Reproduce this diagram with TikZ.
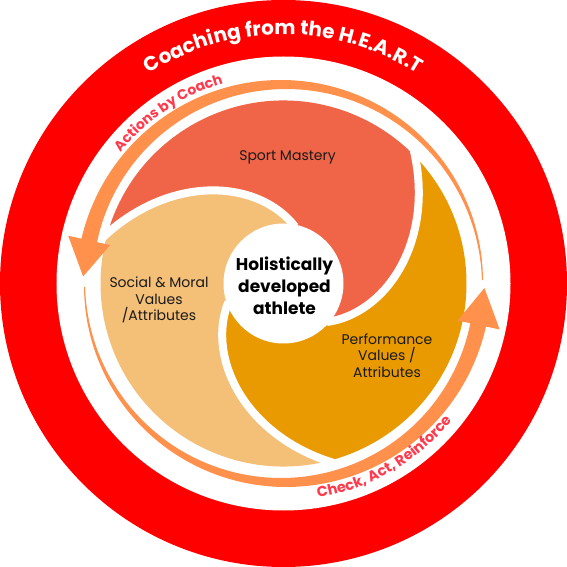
\documentclass[tikz,border=0pt]{standalone}
\usepackage{fontspec}
\setmainfont{Poppins}
\usetikzlibrary{decorations.text}
\definecolor{ringred}{HTML}{FF0000}
\definecolor{sportc}{HTML}{F06547}
\definecolor{perfc}{HTML}{E89A00}
\definecolor{socc}{HTML}{F4BF76}
\definecolor{arrowc}{HTML}{FF914D}
\definecolor{labred}{HTML}{FF3A4C}
\definecolor{ink}{HTML}{1A1A1A}
\tikzset{
  declare function={sr(\t)=58+125*\t*(0.6+0.4*\t);},
  bladetext/.style={font=\fontsize{14}{16.3}\selectfont, text=ink, align=center, inner sep=0pt},
  coretext/.style={font=\fontsize{17}{22}\selectfont\bfseries, text=black, align=center, inner sep=0pt},
  gapline/.style={white, line width=8pt},
}
\begin{document}
\begin{tikzpicture}[x=1pt,y=1pt]
\useasboundingbox (-283.5,-283.5) rectangle (283.5,283.5);
% outer ring
\fill[ringred] (0,0) circle[radius=283.5];
\fill[white] (0,0) circle[radius=227];
% blades
\fill[sportc] (164:183) arc[start angle=164, end angle=44, radius=183]
  -- plot[domain=1:0,samples=40,variable=\t] ({-41.5+85.5*\t}:{sr(\t)})
  arc[start angle=-41.5, end angle=78.5, radius=58]
  -- plot[domain=0:1,samples=40,variable=\t] ({78.5+85.5*\t}:{sr(\t)}) -- cycle;
\fill[perfc] (44:183) arc[start angle=44, end angle=-76, radius=183]
  -- plot[domain=1:0,samples=40,variable=\t] ({-161.5+85.5*\t}:{sr(\t)})
  arc[start angle=-161.5, end angle=-41.5, radius=58]
  -- plot[domain=0:1,samples=40,variable=\t] ({-41.5+85.5*\t}:{sr(\t)}) -- cycle;
\fill[socc] (-76:183) arc[start angle=-76, end angle=-196, radius=183]
  -- plot[domain=1:0,samples=40,variable=\t] ({78.5+85.5*\t}:{sr(\t)})
  arc[start angle=78.5, end angle=198.5, radius=58]
  -- plot[domain=0:1,samples=40,variable=\t] ({-161.5+85.5*\t}:{sr(\t)}) -- cycle;
% gaps
\foreach \e in {-41.5,-161.5,78.5}
  \draw[gapline] plot[domain=0:1.05,samples=50,variable=\t] ({\e+85.5*\t}:{sr(\t)});
\fill[white] (0,0) circle[radius=60];
% arrows
\fill[arrowc] plot[domain=1:167.5,samples=80,variable=\a] (\a:{199.5+7.5*(\a-1)/166.5})
  -- (167.5:220.5) -- (178:200.5) -- (167.5:177.5)
  -- plot[domain=167.5:1,samples=80,variable=\a] (\a:{198.5-7.5*(\a-1)/166.5}) -- cycle;
\fill[arrowc] plot[domain=181:348,samples=80,variable=\a] (\a:{199.5+7.5*(\a-181)/167})
  -- (348:221) -- (358.7:201) -- (348:178)
  -- plot[domain=348:181,samples=80,variable=\a] (\a:{198.5-7.5*(\a-181)/167}) -- cycle;
% curved texts
\path[decorate, decoration={text along path, text align=center, text color=white,
  text={|\fontsize{20}{20}\selectfont\bfseries|Coaching from the H.E.A.R.T}}]
  (150:249) arc[start angle=150, end angle=30, radius=249];
\path[decorate, decoration={text along path, text align=center, text color=labred,
  text={|\fontsize{14}{14}\selectfont\bfseries|Actions by Coach}}]
  (154:209) arc[start angle=154, end angle=94, radius=209];
\path[decorate, decoration={text along path, text align=center, text color=labred,
  text={|\fontsize{14.5}{14.5}\selectfont\bfseries|Check, Act, Reinforce}}]
  (-100:217) arc[start angle=-100, end angle=-20, radius=217];
% labels
\node[bladetext] (sport) at (4,126.5) {Sport Mastery};
\node[bladetext] (social) at (-124.5,-16.5) {Social \& Moral\\Values\\/Attributes};
\node[bladetext] (perf) at (103.5,-72) {Performance\\Values /\\Attributes};
\node[coretext] (core) at (1,-2.5) {Holistically\\developed\\athlete};
\end{tikzpicture}
\end{document}
